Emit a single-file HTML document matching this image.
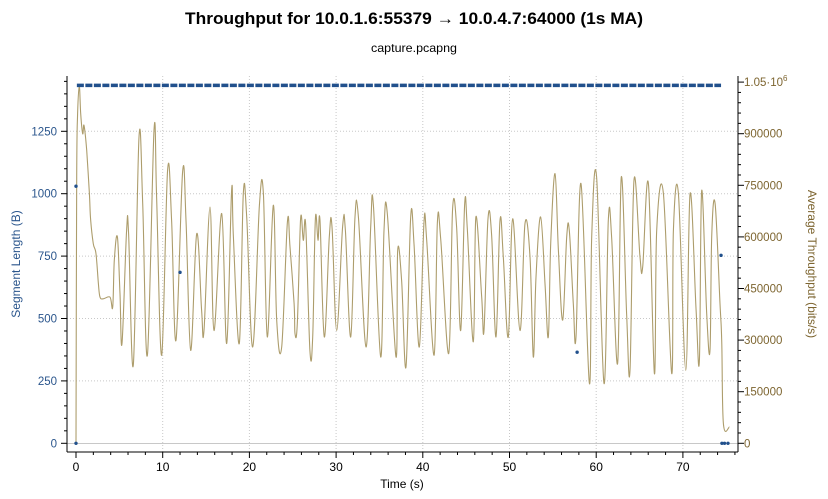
<!DOCTYPE html>
<html><head><meta charset="utf-8"><style>
html,body{margin:0;padding:0;background:#fff;}
svg{display:block;font-family:"Liberation Sans",sans-serif;}
</style></head><body>
<svg id="chart" width="828" height="499" viewBox="0 0 828 499" xmlns="http://www.w3.org/2000/svg">
<text x="414" y="24" text-anchor="middle" font-size="17" font-weight="bold" textLength="458" lengthAdjust="spacingAndGlyphs" fill="#000">Throughput for 10.0.1.6:55379 → 10.0.4.7:64000 (1s MA)</text>
<text x="414" y="52" text-anchor="middle" font-size="12" textLength="86" lengthAdjust="spacingAndGlyphs" fill="#000">capture.pcapng</text>
<g id="grid"></g>
<g id="series"></g>
<g id="axes"></g>
<text x="402" y="488" text-anchor="middle" font-size="12" fill="#000">Time (s)</text>
<text transform="translate(20,264) rotate(-90)" text-anchor="middle" font-size="12" fill="#2a558c">Segment Length (B)</text>
<text transform="translate(808,264) rotate(90)" text-anchor="middle" font-size="12" fill="#7d6530">Average Throughput (bits/s)</text>
</svg>
<script>
// ---- data ----
const xTicks = [0,10,20,30,40,50,60,70];
const leftTicks = [0,250,500,750,1000,1250];
const rightTicks = [0,150000,300000,450000,600000,750000,900000];
const tpTimes = [0,0.08,0.19,0.38,0.54,0.77,0.92,1.23,1.54,1.69,2.0,2.31,2.58,2.77,3.15,3.92,4.23,4.42,4.77,5.07,5.31,5.84,6.07,6.61,7.27,7.69,8.23,9.0,9.3,9.88,10.57,11.03,11.53,12.3,12.69,13.23,13.92,14.49,14.76,15.46,15.92,16.8,17.38,17.95,18.15,18.84,19.3,19.69,20.38,21.15,21.61,22.07,22.76,23.15,23.72,24.38,24.68,25.15,25.26,25.53,25.91,26.22,26.49,26.98,27.3,27.61,27.91,28.14,28.64,29.22,29.53,30.07,30.75,31.07,31.68,32.18,32.57,33.45,33.99,34.3,35.14,35.53,35.91,36.91,37.1,37.56,38.06,38.6,38.99,39.6,40.14,40.45,41.3,41.68,42.07,42.99,43.44,43.9,44.37,44.83,45.14,45.83,46.13,46.79,47.06,47.52,47.94,48.44,48.9,49.29,49.86,50.37,51.21,51.79,52.36,52.75,53.06,53.59,54.1,54.48,54.75,55.25,55.64,56.14,56.6,56.9,57.36,57.67,58.25,59.21,59.48,60.05,60.9,61.4,61.78,62.47,62.9,63.51,63.9,64.36,65.05,65.36,66.02,66.71,66.98,67.75,68.71,68.9,69.48,70.33,70.83,71.52,71.9,72.17,72.75,73.13,73.32,73.71,74.28,74.48,74.67,75.36];
const tpValues = [0,774,958,1040,958,900,924,852,726,648,580,551,464,425,420,425,396,532,600,435,290,619,609,227,890,697,256,910,716,256,794,648,299,789,648,270,609,387,328,687,328,668,290,735,600,290,726,658,280,692,726,309,692,358,280,643,571,406,319,348,653,590,634,270,309,653,590,648,309,600,629,328,629,619,309,658,658,280,629,692,251,619,668,251,561,474,222,658,580,280,643,590,256,643,594,261,682,629,328,697,619,295,658,425,328,653,606,309,648,542,309,653,328,639,542,251,483,658,464,309,580,784,561,358,600,619,406,309,755,174,600,774,174,648,600,232,774,377,212,765,542,513,755,203,619,726,203,619,726,212,726,387,241,735,377,270,600,697,406,299,57,47]; // thousands of bits/s
const segValue = 1434;
const segRuns = [[0.1,74.4]];
const segOutlierTimes = [0,0,12.0,57.8,74.4,74.5,74.8,75.2];
const segOutlierValues = [0,1030,685,365,753,0,0,0];

// ---- scales ----
const X0=76, PXS=8.67;
const xS = t => X0 + t*PXS;
const yL = v => 443.3 - v*(62.4/250);
const yR = v => 443.3 - v*(51.6/150000);
const NS="http://www.w3.org/2000/svg";
function mk(tag, parent){const e=document.createElementNS(NS,tag);parent.appendChild(e);return e;}
const gridG=document.getElementById('grid'), seriesG=document.getElementById('series'), axesG=document.getElementById('axes');

// grid
xTicks.forEach(t=>{ if(t===0) return;
  const l=mk('line',gridG);
  
  
  l.setAttribute('x1',xS(t));l.setAttribute('x2',xS(t));l.setAttribute('y1',76);l.setAttribute('y2',452);
  l.setAttribute('stroke','#c8c8c8');l.setAttribute('stroke-dasharray','1,2');});
leftTicks.forEach(v=>{ if(v===0) return;
  const l=mk('line',gridG);
  
  
  l.setAttribute('x1',67);l.setAttribute('x2',738);l.setAttribute('y1',yL(v));l.setAttribute('y2',yL(v));
  l.setAttribute('stroke','#c8c8c8');l.setAttribute('stroke-dasharray','1,2');});
const zl=mk('line',gridG);


zl.setAttribute('x1',67);zl.setAttribute('x2',738);zl.setAttribute('y1',443.5);zl.setAttribute('y2',443.5);zl.setAttribute('stroke','#c8c8c8');

// throughput line (smoothed through data points)
const pts = tpTimes.map((t,i)=>[xS(t), yR(tpValues[i]*1000)]);
let d = 'M'+pts[0][0].toFixed(1)+','+pts[0][1].toFixed(1);
for(let i=0;i<pts.length-1;i++){
  const p0=pts[Math.max(0,i-1)], p1=pts[i], p2=pts[i+1], p3=pts[Math.min(pts.length-1,i+2)];
  const k=0.18;
  const c1x=p1[0]+(p2[0]-p0[0])*k, c1y=p1[1]+(p2[1]-p0[1])*k;
  const c2x=p2[0]-(p3[0]-p1[0])*k, c2y=p2[1]-(p3[1]-p1[1])*k;
  d+=' C'+c1x.toFixed(1)+','+c1y.toFixed(1)+' '+c2x.toFixed(1)+','+c2y.toFixed(1)+' '+p2[0].toFixed(1)+','+p2[1].toFixed(1);
}
const tpLine=mk('path',seriesG);


tpLine.setAttribute('d',d);
tpLine.setAttribute('fill','none');tpLine.setAttribute('stroke','#ad9d6c');tpLine.setAttribute('stroke-width','1.1');tpLine.setAttribute('stroke-linejoin','round');

// segment dots
segRuns.forEach(r=>{
  const l=mk('line',seriesG);
  
  
  l.setAttribute('x1',xS(r[0]));l.setAttribute('x2',xS(r[1]));l.setAttribute('y1',yL(segValue));l.setAttribute('y2',yL(segValue));
  l.setAttribute('stroke','#21508c');l.setAttribute('stroke-width','3.6');l.setAttribute('stroke-dasharray','7,1.5');
});
segOutlierTimes.forEach((t,i)=>{
  const c=mk('circle',seriesG);
  
  
  c.setAttribute('cx',xS(t));c.setAttribute('cy',yL(segOutlierValues[i]));c.setAttribute('r',1.7);c.setAttribute('fill','#21508c');
});

// axes lines
[[67,76,67,452],[67,452,738,452],[738,76,738,452]].forEach(a=>{
  const l=mk('line',axesG);
  
  
  l.setAttribute('x1',a[0]);l.setAttribute('y1',a[1]);l.setAttribute('x2',a[2]);l.setAttribute('y2',a[3]);l.setAttribute('stroke','#000');
});
function tick(x1,y1,x2,y2){const l=mk('line',axesG);l.setAttribute('x1',x1);l.setAttribute('y1',y1);l.setAttribute('x2',x2);l.setAttribute('y2',y2);l.setAttribute('stroke','#000');return l;}
// x ticks
for(let t=-1;t<=76;t++){ if(t%2!==0 && t%10!==0) continue; const x=xS(t); if(x<67||x>738) continue;
  const l=tick(x,452,x,t%10===0?458:455);
  
  }
xTicks.forEach(t=>{const s=mk('text',axesG);
  
  
  s.setAttribute('x',xS(t));s.setAttribute('y',471);s.setAttribute('text-anchor','middle');s.setAttribute('font-size','12');s.textContent=t;});
// left ticks
for(let v=0;v<=1450;v+=50){const y=yL(v);
  const l=tick(67,y,v%250===0?61:64,y);
  
  }
leftTicks.forEach(v=>{const s=mk('text',axesG);
  
  
  s.setAttribute('x',57);s.setAttribute('y',yL(v)+4);s.setAttribute('text-anchor','end');s.setAttribute('font-size','11.5');s.setAttribute('fill','#2a558c');s.textContent=v;});
// right ticks
for(let v=0;v<=1050000;v+=30000){const y=yR(v);
  const l=tick(738,y,v%150000===0?744:741,y);
  
  }
rightTicks.forEach(v=>{const s=mk('text',axesG);
  
  
  s.setAttribute('x',744);s.setAttribute('y',yR(v)+4);s.setAttribute('font-size','11.5');s.setAttribute('fill','#7d6530');s.textContent=v;});
const topLabel=mk('text',axesG);


topLabel.setAttribute('x',744);topLabel.setAttribute('y',yR(1050000)+4);topLabel.setAttribute('font-size','11.5');topLabel.setAttribute('fill','#7d6530');
topLabel.innerHTML='1.05·10<tspan dy="-5" font-size="8">6</tspan>';
</script>
</body></html>
